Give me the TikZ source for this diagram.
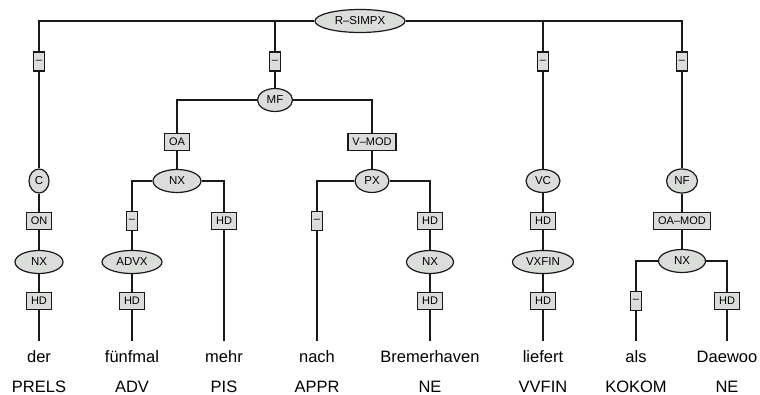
\documentclass[tikz,border=0pt]{standalone}
\usepackage{fontspec}
\setmainfont{Liberation Sans}
\usetikzlibrary{shapes.geometric}
\definecolor{linec}{RGB}{25,25,25}
\definecolor{nfill}{RGB}{218,221,218}
\tikzset{
  conn/.style={line width=1.2pt, draw=linec},
  ell/.style={ellipse, draw=linec, line width=1.2pt, fill=nfill, inner sep=0pt,
    minimum height=23pt, font=\fontsize{11.5}{11.5}\selectfont},
  lab/.style={rectangle, draw=linec, line width=1.2pt, fill=nfill, inner xsep=4.5pt,
    inner ysep=0pt, minimum height=17pt, font=\fontsize{11}{11}\selectfont},
  dashbox/.style={lab, inner xsep=0pt, minimum width=11pt, minimum height=19pt},
  word/.style={anchor=base, inner xsep=0pt, inner ysep=9pt, text height=12pt, text depth=3pt,
    font=\fontsize{16.5}{16.5}\selectfont},
  tagtext/.style={anchor=base, inner sep=0pt, font=\fontsize{16.5}{16.5}\selectfont}
}
\begin{document}
\begin{tikzpicture}[x=1pt,y=-1pt]
\useasboundingbox (0,0) rectangle (760,395);
% nodes
\node[ell, minimum width=90pt] (rs) at (360,21) {R–SIMPX};
\node[dashbox] (d1) at (39,61.5) {–};
\node[dashbox] (d2) at (275,61.5) {–};
\node[dashbox] (d3) at (543,61.5) {–};
\node[dashbox] (d4) at (682,61.5) {–};
\node[ell, minimum width=35pt] (mf) at (275,100) {MF};
\node[lab] (oa) at (177,142) {OA};
\node[lab] (vmod) at (372,142) {V–MOD};
\node[ell, minimum width=20pt, minimum height=24pt] (c) at (39,181) {C};
\node[ell, minimum width=48pt] (nx1) at (177,181) {NX};
\node[ell, minimum width=34pt] (px) at (372,181) {PX};
\node[ell, minimum width=34pt] (vc) at (543,181) {VC};
\node[ell, minimum width=31pt, minimum height=24pt] (nf) at (682,181) {NF};
\node[lab] (on) at (39,221) {ON};
\node[dashbox] (d5) at (132,221) {–};
\node[lab] (hd1) at (224,221) {HD};
\node[dashbox] (d6) at (317,221) {–};
\node[lab] (hd2) at (430,221) {HD};
\node[lab] (hd3) at (543,221) {HD};
\node[lab] (oamod) at (682,221) {OA–MOD};
\node[ell, minimum width=48pt] (nx2) at (39,262) {NX};
\node[ell, minimum width=60pt] (advx) at (132,262) {ADVX};
\node[ell, minimum width=47pt] (nx3) at (430,262) {NX};
\node[ell, minimum width=61pt] (vxfin) at (543,262) {VXFIN};
\node[ell, minimum width=47pt] (nx4) at (682,261) {NX};
\node[lab] (hd4) at (39,301) {HD};
\node[lab] (hd5) at (132,301) {HD};
\node[lab] (hd6) at (430,301) {HD};
\node[lab] (hd7) at (543,301) {HD};
\node[dashbox] (d7) at (636,301) {–};
\node[lab] (hd8) at (727,301) {HD};
% words
\node[word] (w1) at (39,362) {der};
\node[word] (w2) at (132,362) {fünfmal};
\node[word] (w3) at (224,362) {mehr};
\node[word] (w4) at (317,362) {nach};
\node[word] (w5) at (430,362) {Bremerhaven};
\node[word] (w6) at (543,362) {liefert};
\node[word] (w7) at (636,362) {als};
\node[word] (w8) at (727,362) {Daewoo};
\node[tagtext] (p1) at (39,392) {PRELS};
\node[tagtext] (p2) at (132,392) {ADV};
\node[tagtext] (p3) at (224,392) {PIS};
\node[tagtext] (p4) at (317,392) {APPR};
\node[tagtext] (p5) at (430,392) {NE};
\node[tagtext] (p6) at (543,392) {VVFIN};
\node[tagtext] (p7) at (636,392) {KOKOM};
\node[tagtext] (p8) at (727,392) {NE};
% connectors
\draw[conn] (rs.west) -| (d1.north);
\draw[conn] (d1) -- (c);
\draw[conn] (c) -- (on);
\draw[conn] (on) -- (nx2);
\draw[conn] (nx2) -- (hd4);
\draw[conn] (hd4) -- (w1);
\draw[conn] (rs.west) -| (d2.north);
\draw[conn] (d2) -- (mf);
\draw[conn] (mf.west) -| (oa.north);
\draw[conn] (mf.east) -| (vmod.north);
\draw[conn] (oa) -- (nx1);
\draw[conn] (nx1.west) -| (d5.north);
\draw[conn] (nx1.east) -| (hd1.north);
\draw[conn] (d5) -- (advx);
\draw[conn] (advx) -- (hd5);
\draw[conn] (hd5) -- (w2);
\draw[conn] (hd1) -- (w3);
\draw[conn] (vmod) -- (px);
\draw[conn] (px.west) -| (d6.north);
\draw[conn] (px.east) -| (hd2.north);
\draw[conn] (d6) -- (w4);
\draw[conn] (hd2) -- (nx3);
\draw[conn] (nx3) -- (hd6);
\draw[conn] (hd6) -- (w5);
\draw[conn] (rs.east) -| (d3.north);
\draw[conn] (d3) -- (vc);
\draw[conn] (vc) -- (hd3);
\draw[conn] (hd3) -- (vxfin);
\draw[conn] (vxfin) -- (hd7);
\draw[conn] (hd7) -- (w6);
\draw[conn] (rs.east) -| (d4.north);
\draw[conn] (d4) -- (nf);
\draw[conn] (nf) -- (oamod);
\draw[conn] (oamod) -- (nx4);
\draw[conn] (nx4.west) -| (d7.north);
\draw[conn] (nx4.east) -| (hd8.north);
\draw[conn] (d7) -- (w7);
\draw[conn] (hd8) -- (w8);
\end{tikzpicture}
\end{document}
